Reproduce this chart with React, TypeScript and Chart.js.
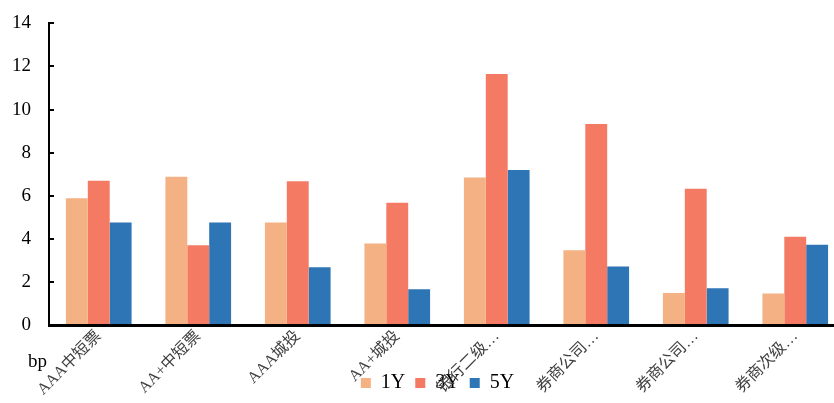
import React, { useEffect, useRef } from 'react';
import { Chart, registerables } from 'chart.js';

Chart.register(...registerables);

const categories = ['AAA中短票', 'AA+中短票', 'AAA城投', 'AA+城投', '银行二级…', '券商公司…', '券商公司…', '券商次级…'];
const seriesNames = ['1Y', '3Y', '5Y'];
const values1Y = [5.88, 6.88, 4.76, 3.78, 6.85, 3.47, 1.48, 1.46];
const values3Y = [6.7, 3.7, 6.67, 5.68, 11.65, 9.33, 6.33, 4.1];
const values5Y = [4.76, 4.76, 2.68, 1.66, 7.2, 2.72, 1.71, 3.73];
const seriesColors = ['#F4B183', '#F47A63', '#2E75B6'];
const yMin = 0;
const yMax = 14;
const yStep = 2;
const unitLabel = 'bp';

const serif = '"Liberation Serif", "Times New Roman", serif';

const extrasPlugin = {
  id: 'extras',
  afterLayout(chart: any) {
    const lg = chart.legend;
    if (lg) {
      lg.left += 15;
      lg.right += 15;
    }
  },
  afterDraw(chart: any) {
    const ctx = chart.ctx;
    ctx.save();
    ctx.font = `19px ${serif}`;
    ctx.fillStyle = '#000';
    ctx.textBaseline = 'alphabetic';
    ctx.fillText(unitLabel, 28, 367 + 11);
    ctx.restore();
  },
};

export default function App() {
  const ref = useRef<HTMLCanvasElement | null>(null);

  useEffect(() => {
    if (!ref.current) return;
    const data = [values1Y, values3Y, values5Y];
    const chart = new Chart(ref.current, {
      type: 'bar',
      data: {
        labels: categories,
        datasets: seriesNames.map((name, i) => ({
          label: name,
          data: data[i],
          backgroundColor: seriesColors[i],
          borderWidth: 0,
          categoryPercentage: 0.66,
          barPercentage: 1,
        })),
      },
      options: {
        animation: false,
        responsive: true,
        maintainAspectRatio: false,
        layout: { padding: { top: 0, left: 0, right: 0, bottom: 0 } },
        plugins: {
          tooltip: { enabled: false },
          legend: {
            position: 'bottom',
            labels: {
              boxWidth: 10,
              boxHeight: 10,
              padding: 10,
              color: '#000',
              font: { family: serif, size: 20 },
            },
          },
        },
        scales: {
          x: {
            grid: { display: false, drawTicks: false },
            border: { display: true, color: '#000', width: 3 },
            ticks: {
              autoSkip: false,
              minRotation: 45,
              maxRotation: 45,
              padding: 2,
              color: '#404040',
              font: { family: '"Liberation Serif", "Noto Sans CJK SC", serif', size: 16 },
            },
            afterFit(s: any) {
              s.height = 38;
              s._computeLabelArea = () => undefined;
            },
          },
          y: {
            min: yMin,
            max: yMax,
            grid: {
              drawOnChartArea: false,
              drawTicks: true,
              tickLength: -5,
              color: '#000',
              lineWidth: 2,
            },
            border: { display: true, color: '#000', width: 2 },
            ticks: {
              stepSize: yStep,
              padding: 23,
              color: '#000',
              font: { family: serif, size: 19 },
            },
            afterFit(s: any) {
              s.width = 49;
            },
          },
        },
      },
      plugins: [extrasPlugin],
    });
    return () => chart.destroy();
  }, []);

  return (
    <div style={{ position: 'fixed', left: 0, top: 0, width: 834, height: 403, overflow: 'hidden', background: '#fff' }}>
      <div style={{ position: 'absolute', left: 0, top: -11, width: 845, height: 414 }}>
        <canvas ref={ref} />
      </div>
    </div>
  );
}
